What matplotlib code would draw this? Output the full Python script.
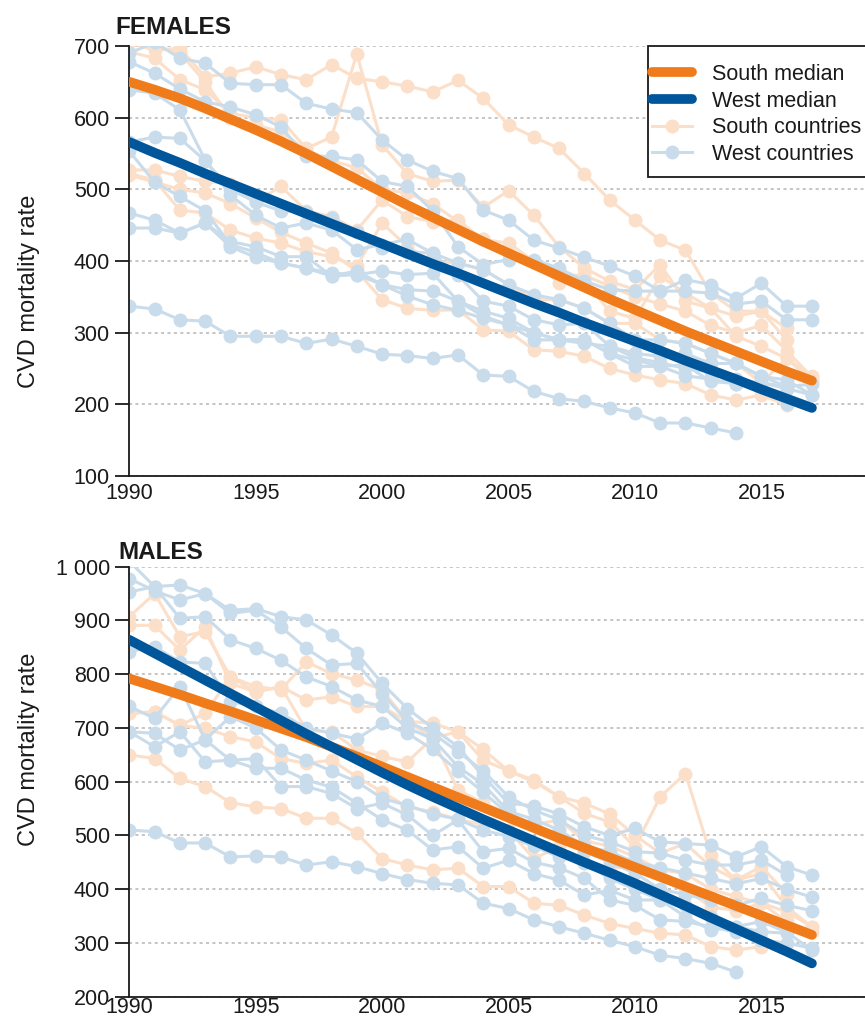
import numpy as np
import matplotlib
matplotlib.use("Agg")
import matplotlib.pyplot as plt
from matplotlib.lines import Line2D
from matplotlib.patches import Rectangle

plt.rcParams['font.family'] = ['Liberation Sans', 'DejaVu Sans']

years = list(range(1990, 2018))

# ---- Females: country series (rates per 100 000), None = no data ----
fem_south_countries = [
    [705, 694, 697, 657, 662, 671, 660, 653, 674, 655, 650, 644, 636, 652, 627, 590, 573, 557, 522, 485, 457, 429, 415, 355, 330, 330, 306, None],
    [692, 683, 653, 639, 606, 600, 597, 557, 573, 689, 562, 522, 511, 513, 475, 498, 464, 420, 390, 372, 360, 395, 344, 334, 323, 330, 290, None],
    [715, 700, 690, 650, 600, 590, 580, 555, 540, 530, 500, 495, 480, 455, 430, 410, 398, 380, 380, 365, 350, 340, 330, 310, 300, 310, 275, 238],
    [527, 527, 518, 511, 508, 483, 504, 470, 462, 443, 485, 462, 455, 457, 430, 425, 400, 369, 372, 330, 320, 379, 355, 334, 295, 281, 264, 239],
    [522, 513, 471, 467, 443, 432, 425, 413, 406, 393, 453, 420, 400, 397, 388, 367, 346, 346, 334, 313, 313, 290, 285, 271, 257, 230, 264, 232],
    [520, 510, 500, 495, 480, 460, 440, 425, 411, 386, 346, 334, 331, 332, 304, 302, 276, 274, 267, 250, 241, 234, 229, 213, 206, 213, 199, None],
]
fem_west_countries = [
    [690, 705, 683, 676, 648, 646, 646, 620, 612, 607, 569, 541, 525, 515, 471, 457, 429, 418, 405, 393, 379, 358, 374, 367, 348, 369, 337, 337],
    [678, 662, 640, 622, 615, 604, 587, 546, 546, 541, 511, 504, 470, 420, 395, 402, 402, 390, 372, 360, 358, 358, 358, 355, 340, 344, 318, 318],
    [639, 634, 611, 541, 492, 464, 446, 453, 443, 416, 423, 430, 411, 397, 388, 367, 353, 346, 334, 313, 290, 290, 285, 271, 257, 239, 234, 213],
    [566, 573, 571, 540, 500, 482, 470, 468, 460, 440, 418, 413, 411, 380, 344, 337, 318, 311, 313, 281, 271, 267, 271, 257, 257, 239, 225, 228],
    [553, 510, 490, 470, 423, 412, 397, 390, 383, 381, 386, 381, 383, 344, 323, 311, 290, 290, 290, 271, 253, 253, 255, 232, 229, 230, 225, None],
    [467, 457, 439, 453, 427, 420, 406, 406, 379, 386, 367, 360, 358, 344, 330, 320, 300, 290, 285, 281, 265, 258, 250, 245, 235, 230, 222, 213],
    [446, 446, 439, 453, 420, 405, 397, 390, 379, 381, 367, 351, 339, 331, 320, 311, 300, 290, 290, 271, 262, 253, 240, 235, 229, 225, 201, None],
    [337, 333, 318, 316, 295, 295, 295, 285, 291, 281, 270, 268, 264, 269, 241, 239, 218, 208, 204, 195, 188, 174, 174, 167, 160, None, None, None],
]
fem_south_median = [650, 639, 627, 613, 598, 583, 567, 550, 532, 514, 496, 478, 461, 444, 427, 411, 395, 379, 363, 347, 332, 317, 302, 288, 274, 260, 246, 233]
fem_west_median = [566, 551, 537, 522, 508, 494, 480, 466, 452, 438, 424, 410, 396, 383, 369, 355, 341, 328, 314, 301, 288, 275, 261, 248, 235, 221, 208, 195]

# ---- Males ----
male_south_countries = [
    [907, 950, 870, 879, 795, 777, 771, 823, 801, 789, 771, 712, 709, 693, 660, 620, 603, 572, 541, 525, 479, 572, 615, 463, 417, 442, 392, None],
    [891, 891, 845, 888, 783, 767, 777, 752, 758, 740, 740, 712, 681, 693, 640, 620, 600, 572, 560, 540, 500, 467, 485, 442, 417, 429, 367, 330],
    [727, 730, 705, 727, 795, 767, 777, 696, 693, 659, 647, 637, 681, 585, 560, 541, 520, 529, 490, 480, 460, 436, 429, 400, 386, 374, 358, 330],
    [727, 730, 705, 699, 684, 674, 643, 634, 640, 609, 581, 553, 544, 530, 520, 510, 457, 479, 450, 440, 442, 436, 400, 367, 360, 374, 340, 320],
    [650, 643, 606, 591, 561, 553, 550, 532, 532, 504, 457, 445, 436, 439, 405, 405, 374, 370, 352, 336, 327, 318, 315, 293, 287, 293, None, None],
]
male_west_countries = [
    [1010, 963, 966, 950, 919, 922, 907, 901, 873, 839, 783, 736, 700, 665, 610, 560, 555, 540, 516, 500, 513, 488, 485, 482, 460, 479, 442, 426],
    [978, 955, 938, 950, 913, 919, 888, 848, 817, 820, 764, 712, 690, 656, 620, 572, 547, 529, 500, 488, 470, 467, 454, 445, 445, 454, 426, None],
    [953, 963, 904, 907, 864, 848, 826, 795, 777, 752, 740, 700, 680, 628, 595, 545, 530, 510, 480, 470, 450, 440, 430, 420, 410, 420, 400, 385],
    [842, 851, 823, 820, 749, 740, 727, 700, 690, 680, 709, 690, 660, 620, 580, 540, 520, 500, 470, 450, 430, 400, 390, 380, 370, 383, 370, 360],
    [740, 718, 777, 678, 721, 700, 659, 640, 620, 600, 569, 556, 540, 530, 510, 498, 480, 460, 448, 420, 400, 380, 370, 349, 330, 340, 320, 287],
    [693, 665, 693, 637, 640, 625, 625, 603, 590, 560, 529, 510, 473, 479, 439, 454, 429, 417, 389, 398, 380, 380, 349, 324, 330, 321, 318, None],
    [693, 690, 659, 678, 640, 643, 591, 591, 578, 550, 560, 538, 500, 529, 470, 476, 450, 440, 420, 380, 370, 343, 340, 330, 320, 305, 300, 290],
    [510, 507, 486, 486, 460, 462, 460, 445, 451, 442, 429, 418, 411, 408, 374, 364, 343, 330, 318, 305, 293, 277, 271, 262, 246, None, None, None],
]
male_south_median = [792, 777, 762, 746, 731, 715, 699, 683, 665, 647, 628, 609, 590, 571, 552, 533, 514, 495, 477, 459, 441, 423, 405, 387, 369, 351, 333, 315]
male_west_median = [864, 839, 814, 789, 764, 739, 714, 689, 665, 641, 617, 594, 572, 551, 530, 510, 490, 470, 450, 431, 411, 390, 369, 347, 326, 305, 284, 262]

fem_yticks = [100, 200, 300, 400, 500, 600, 700]
male_yticks = [200, 300, 400, 500, 600, 700, 800, 900, 1000]

SOUTH = '#EF7B1A'
WEST = '#00569A'
SOUTH_LIGHT = '#FCDFC9'
WEST_LIGHT = '#C9DCEB'
INK = '#1a1a1a'


def as_array(series):
    return np.array([np.nan if v is None else v for v in series], dtype=float)


def draw_panel(ax, south, west, south_med, west_med, yticks, label_y, xpad):
    for s in south:
        ax.plot(years, as_array(s), color=SOUTH_LIGHT, lw=2.2, marker='o',
                ms=9, mec=SOUTH_LIGHT, mfc=SOUTH_LIGHT, zorder=2)
    for s in west:
        ax.plot(years, as_array(s), color=WEST_LIGHT, lw=2.2, marker='o',
                ms=9, mec=WEST_LIGHT, mfc=WEST_LIGHT, zorder=2)
    ax.plot(years, south_med, color=SOUTH, lw=7, solid_capstyle='round', zorder=4)
    ax.plot(years, west_med, color=WEST, lw=7, solid_capstyle='round', zorder=4)

    ax.set_xlim(1990, 2019.1)
    ax.set_ylim(yticks[0], yticks[-1])
    ax.set_yticks(yticks)
    ax.set_yticklabels([f"{v:,}".replace(",", " ") for v in yticks])
    ax.set_xticks([1990, 1995, 2000, 2005, 2010, 2015])
    ax.tick_params(axis='y', direction='out', length=10, width=1.3, pad=4,
                   labelsize=15.5, color=INK, labelcolor=INK)
    ax.tick_params(axis='x', direction='in', length=0, pad=xpad,
                   labelsize=15.5, labelcolor=INK)
    for side in ('top', 'right'):
        ax.spines[side].set_visible(False)
    for side in ('left', 'bottom'):
        ax.spines[side].set_linewidth(1.3)
        ax.spines[side].set_color(INK)
    ax.yaxis.grid(True, color='#b5b5b5', lw=1.1, linestyle=(0, (2, 2.2)))
    ax.set_axisbelow(True)
    ax.set_ylabel('CVD mortality rate', fontsize=17, color=INK)
    ax.yaxis.set_label_coords(-0.121, label_y)


fig = plt.figure(figsize=(8.65, 10.22), dpi=100)
W, H = 865, 1022
left = 129.3 / W
width = 1 - left
ax_f = fig.add_axes([left, 1 - 476 / H, width, 430 / H])
ax_m = fig.add_axes([left, 1 - 996.7 / H, width, 430 / H])

draw_panel(ax_f, fem_south_countries, fem_west_countries,
           fem_south_median, fem_west_median, fem_yticks, 0.43, 5)
draw_panel(ax_m, male_south_countries, male_west_countries,
           male_south_median, male_west_median, male_yticks, 0.575, 0.3)

fig.text(115 / W, 1 - 34 / H, 'FEMALES', fontsize=17.5, fontweight='bold',
         color=INK, va='baseline', ha='left')
fig.text(118 / W, 1 - 559 / H, 'MALES', fontsize=17.5, fontweight='bold',
         color=INK, va='baseline', ha='left')

# legend in the female panel
handles = [
    Line2D([], [], color=SOUTH, lw=7, solid_capstyle='round'),
    Line2D([], [], color=WEST, lw=7, solid_capstyle='round'),
    Line2D([], [], color=SOUTH_LIGHT, lw=2.2, marker='o', ms=9, mec=SOUTH_LIGHT),
    Line2D([], [], color=WEST_LIGHT, lw=2.2, marker='o', ms=9, mec=WEST_LIGHT),
]
labels = ['South median', 'West median', 'South countries', 'West countries']
fig.patches.append(Rectangle((648 / W, 1 - 177 / H), 300 / W, 130.5 / H,
                             transform=fig.transFigure, fill=True,
                             facecolor='white', edgecolor=INK, lw=1.3,
                             zorder=5))
leg = fig.legend(handles, labels, loc='upper left',
                 bbox_to_anchor=(652 / W, 1 - 64 / H), frameon=False,
                 fontsize=15.5, handlelength=1.85, handletextpad=0.95,
                 labelspacing=0.26, borderpad=0, borderaxespad=0)
leg.set_zorder(6)
for t in leg.get_texts():
    t.set_color(INK)

fig.savefig('out.png', dpi=100)
